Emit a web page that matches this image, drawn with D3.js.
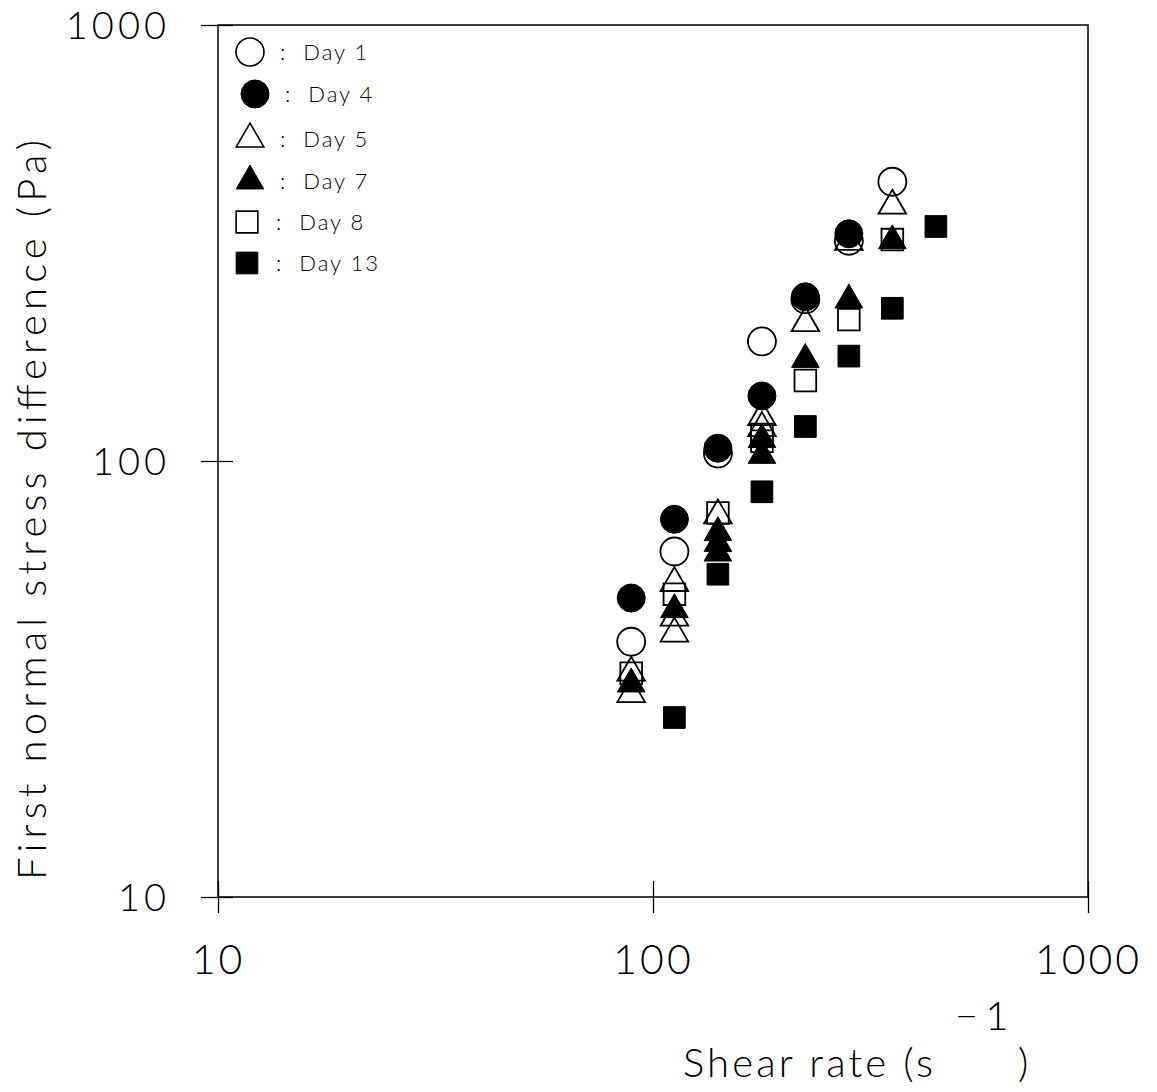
<!DOCTYPE html>
<html>
<head>
<meta charset="utf-8">
<script src="https://cdn.jsdelivr.net/npm/d3@7"></script>
<style>
  html, body { margin: 0; padding: 0; background: #fff; }
  svg { display: block; }
  text { font-family: "Lato", "DejaVu Sans", sans-serif; font-weight: 300; fill: #000; }
</style>
</head>
<body>
<svg id="chart" width="1157" height="1092"></svg>
<script>
// ---- data ----
const shearDay1  = [89.1, 112, 141, 178, 224, 282, 355];
const n1Day1     = [38.5, 62, 104, 188, 235, 320, 437];

const shearDay4  = [89.1, 112, 141, 178, 224, 282];
const n1Day4     = [48.5, 73.5, 107, 141, 238, 332];

const shearDay5  = [89.1, 89.1, 112, 112, 112, 141, 178, 178, 224, 282, 355];
const n1Day5     = [32.7, 29.2, 52.5, 43.7, 40.2, 75, 126, 119, 207, 318, 385];

const shearDay7  = [89.1, 112, 141, 141, 141, 178, 178, 224, 282, 355];
const n1Day7     = [30.8, 45.6, 68.5, 64.7, 61.5, 112, 103, 171, 234, 320];

const shearDay8  = [89.1, 112, 141, 178, 178, 224, 282, 355];
const n1Day8     = [32.6, 49.5, 76, 115, 111, 153, 211, 322];

const shearDay13 = [112, 141, 178, 224, 282, 355, 447];
const n1Day13    = [25.8, 55, 85, 120, 174, 224, 345];

const legendLabels = ["Day 1", "Day 4", "Day 5", "Day 7", "Day 8", "Day 13"];
const xTicks = [10, 100, 1000];
const yTicks = [10, 100, 1000];
const xTickLabels = ["10", "100", "1000"];
const yTickLabels = ["10", "100", "1000"];

const series = [
  { xs: shearDay1,  ys: n1Day1,  shape: d3.symbolCircle,   filled: false, size: 615 },
  { xs: shearDay4,  ys: n1Day4,  shape: d3.symbolCircle,   filled: true,  size: 615 },
  { xs: shearDay5,  ys: n1Day5,  shape: d3.symbolTriangle, filled: false, size: 330 },
  { xs: shearDay7,  ys: n1Day7,  shape: d3.symbolTriangle, filled: true,  size: 330 },
  { xs: shearDay8,  ys: n1Day8,  shape: d3.symbolSquare,   filled: false, size: 470 },
  { xs: shearDay13, ys: n1Day13, shape: d3.symbolSquare,   filled: true,  size: 470 }
];

// ---- layout ----
const svg = d3.select("#chart");
const x = d3.scaleLog().domain([10, 1000]).range([218, 1088]);
const y = d3.scaleLog().domain([10, 1000]).range([897, 25]);

// frame
svg.append("rect")
  .attr("x", x(10)).attr("y", y(1000))
  .attr("width", x(1000) - x(10)).attr("height", y(10) - y(1000))
  .attr("fill", "none").attr("stroke", "#000").attr("stroke-width", 1.5);

// x axis outer ticks + labels
const xAxis = svg.append("g").attr("transform", `translate(0,${y(10)})`)
  .call(d3.axisBottom(x).tickValues(xTicks).tickSize(16).tickSizeOuter(0)
    .tickFormat((d, i) => xTickLabels[i]));
xAxis.select(".domain").remove();
xAxis.selectAll("line").attr("stroke", "#000").attr("stroke-width", 1.3);
xAxis.selectAll("text")
  .attr("y", 48).attr("dy", "0.71em")
  .style("font-size", "41px").style("letter-spacing", "3px")
  .style("font-family", "Lato, 'DejaVu Sans', sans-serif").style("font-weight", 300);
// x inner ticks
const xAxisIn = svg.append("g").attr("transform", `translate(0,${y(10)})`)
  .call(d3.axisBottom(x).tickValues(xTicks).tickSize(-16).tickFormat(""));
xAxisIn.select(".domain").remove();
xAxisIn.selectAll("line").attr("stroke", "#000").attr("stroke-width", 1.3);

// y axis outer ticks + labels
const yAxis = svg.append("g").attr("transform", `translate(${x(10)},0)`)
  .call(d3.axisLeft(y).tickValues(yTicks).tickSize(17).tickSizeOuter(0)
    .tickFormat((d, i) => yTickLabels[i]));
yAxis.select(".domain").remove();
yAxis.selectAll("line").attr("stroke", "#000").attr("stroke-width", 1.3);
yAxis.selectAll("text")
  .attr("x", -48).attr("dy", "0.36em")
  .style("font-size", "38px").style("letter-spacing", "4px")
  .style("font-family", "Lato, 'DejaVu Sans', sans-serif").style("font-weight", 300);
const yAxisIn = svg.append("g").attr("transform", `translate(${x(10)},0)`)
  .call(d3.axisLeft(y).tickValues(yTicks).tickSize(-15).tickFormat(""));
yAxisIn.select(".domain").remove();
yAxisIn.selectAll("line").attr("stroke", "#000").attr("stroke-width", 1.3);

// axis titles
svg.append("text")
  .attr("transform", "translate(46,510) rotate(-90)")
  .attr("text-anchor", "middle")
  .attr("textLength", 740).attr("lengthAdjust", "spacing")
  .style("font-size", "40px")
  .text("First normal stress difference (Pa)");

const xt = svg.append("text").attr("x", 683).attr("y", 1077).style("font-size", "40px");
xt.append("tspan").attr("textLength", 250).attr("lengthAdjust", "spacing").text("Shear rate (s");
xt.append("tspan").attr("x", 955).attr("y", 1030).style("letter-spacing", "7px").text("\u22121");
xt.append("tspan").attr("x", 1018).attr("y", 1077).style("letter-spacing", "0px").text(")");

// data points
const pts = svg.append("g");
series.forEach(s => {
  const sym = d3.symbol().type(s.shape).size(s.size);
  pts.selectAll(null)
    .data(s.xs.map((xv, i) => [xv, s.ys[i]]))
    .join("path")
    .attr("transform", d => `translate(${x(d[0])},${y(d[1])})`)
    .attr("d", sym)
    .attr("fill", s.filled ? "#000" : "none")
    .attr("stroke", "#000")
    .attr("stroke-width", s.filled ? 1 : 1.8);
});

// legend
const legendPos = [[250, 52], [255, 94], [250, 139], [250, 181], [247, 222], [247, 263]];
const legendTextX = [280, 285, 280, 280, 276, 276];
const lg = svg.append("g");
series.forEach((s, i) => {
  lg.append("path")
    .attr("transform", `translate(${legendPos[i][0]},${legendPos[i][1]})`)
    .attr("d", d3.symbol().type(s.shape).size(s.size))
    .attr("fill", s.filled ? "#000" : "#fff")
    .attr("stroke", "#000").attr("stroke-width", s.filled ? 1 : 1.6);
  lg.append("text")
    .attr("x", legendTextX[i]).attr("y", legendPos[i][1] + 8)
    .style("font-size", "22px").style("letter-spacing", "2px")
    .attr("xml:space", "preserve")
    .text(":  " + legendLabels[i]);
});
</script>
</body>
</html>
